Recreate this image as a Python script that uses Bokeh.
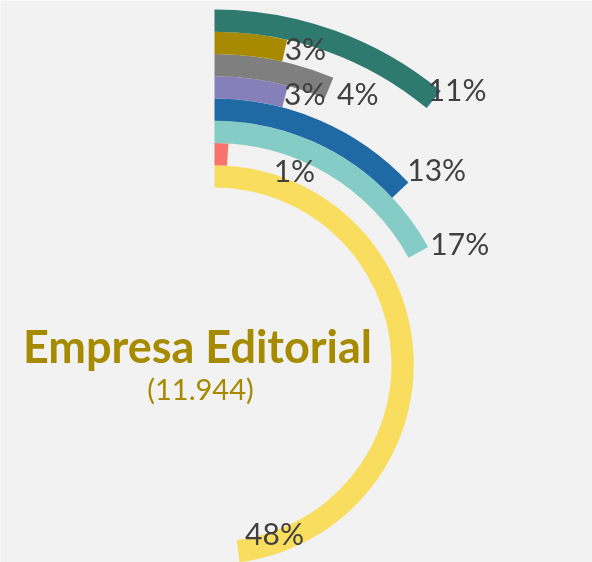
import numpy as np
from bokeh.plotting import figure
from bokeh.models import ColumnDataSource, Range1d
from bokeh.core.properties import value
from bokeh.embed import file_html
from bokeh.resources import INLINE

# ---- data (rings from innermost to outermost) ----
arc_share = [48, 1, 17, 13, 4.1, 6.25, 3.5, 11]     # arc length, percent of full circle (as drawn)
ring_labels = ["48%", "1%", "17%", "13%", "3%", "4%", "3%", "11%"]
ring_colors = ["#F9DD5E", "#F8736A", "#84CCC5", "#1F6AA5",
               "#8680BA", "#7F7F7F", "#A88A00", "#2F7A6E"]
title_text = "Empresa Editorial"
total_text = "(11.944)"

# ---- layout (pixels) ----
W, H = 592, 562
cx, cy = 214, H - 364
r0, bw = 177.0, 22.25
label_dx = [7, 46, 12, 7, -1, 8, 0, -6]
label_dy = [-18, 15, -9, -21, -4, 5, -3, -11]

share = np.array(arc_share, dtype=float)
k = np.arange(len(share))
inner = r0 + bw * k
outer = inner + bw
mid = inner + bw / 2
theta = share / 100.0 * 2 * np.pi

src = ColumnDataSource(dict(
    x=[cx] * len(share), y=[cy] * len(share),
    inner=inner, outer=outer,
    start=np.pi / 2 - theta, end=[np.pi / 2] * len(share),
    color=ring_colors,
    lx=cx + mid * np.sin(theta), ly=cy + mid * np.cos(theta),
    label=ring_labels, dx=label_dx, dy=label_dy,
))

p = figure(width=W, height=H, x_range=Range1d(0, W), y_range=Range1d(0, H),
           output_backend="svg", toolbar_location=None, min_border=0,
           x_axis_location=None, y_axis_location=None)
p.grid.visible = False
p.outline_line_color = None
p.background_fill_color = "#F2F2F2"
p.border_fill_color = "#F2F2F2"
p.styles = {"position": "fixed", "left": "0px", "top": "0px"}

p.annular_wedge(x="x", y="y", inner_radius="inner", outer_radius="outer",
                start_angle="start", end_angle="end", color="color",
                line_color=None, source=src)

p.text(x="lx", y="ly", text="label", x_offset="dx", y_offset="dy",
       text_font=value("Lato"), text_font_size="30px", text_color="#404040",
       text_align="left", text_baseline="alphabetic", source=src)

p.text(x=[197], y=[H - 345], text=[title_text], text_font=value("Lato"),
       text_font_style="bold", text_font_size="45px", text_color="#A68A00",
       text_align="center", text_baseline="alphabetic")
p.text(x=[200], y=[H - 388], text=[total_text], text_font=value("Lato"),
       text_font_size="29px", text_color="#A68A00",
       text_align="center", text_baseline="alphabetic")

open("out.html", "w").write(file_html(p, INLINE))
